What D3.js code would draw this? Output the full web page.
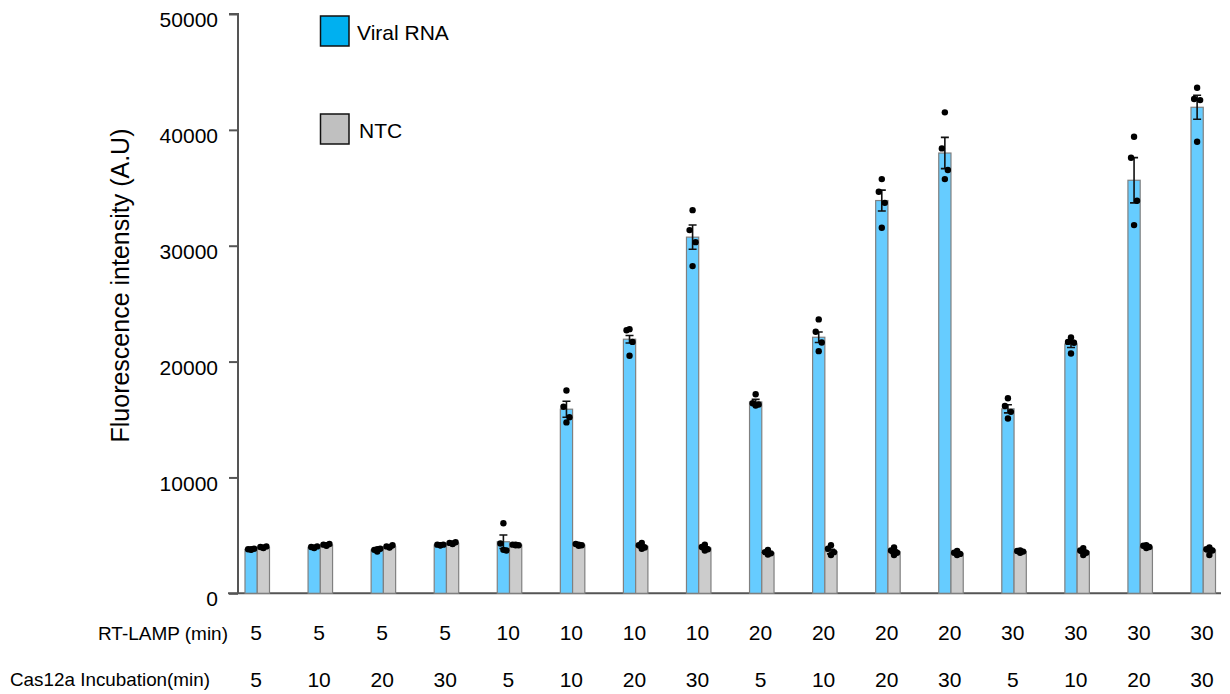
<!DOCTYPE html>
<html><head><meta charset="utf-8">
<script src="https://cdn.jsdelivr.net/npm/d3@7"></script>
<style>body{margin:0;background:#fff}text{font-family:"Liberation Sans",Arial,sans-serif;fill:#000}</style>
</head><body><svg id="c" width="1230" height="694"></svg>
<script>
const rtLamp = [5,5,5,5,10,10,10,10,20,20,20,20,30,30,30,30];
const casInc = [5,10,20,30,5,10,20,30,5,10,20,30,5,10,20,30];
const viralMean = [3800,3970,3740,4170,4450,15890,21930,30740,16520,22100,33900,38000,15920,21520,35650,41950];
const viralSem  = [80,80,100,60,580,690,320,1050,220,450,900,1350,350,300,1950,1040];
const viralDots = [
  [3750,3800,3850,3800],[3900,4000,4050,3950],[3600,3750,3850,3800],[4150,4200,4200,4150],
  [6050,4300,3700,3750],[17500,16100,15200,14750],[22800,22700,21700,20500],[33070,31350,30310,28240],
  [17180,16400,16300,16200],[23640,22570,21650,20900],[35750,34660,33700,31550],[41510,38400,36530,35750],
  [16840,16170,15660,15090],[22080,21700,21620,20700],[39410,37590,33880,31780],[43640,42660,42570,38970]];
const ntcMean = [3970,4170,4020,4320,4170,4170,4050,3900,3500,3600,3590,3450,3590,3590,4000,3740];
const ntcSem  = [60,60,80,60,40,60,120,110,90,200,140,80,50,130,60,140];
const ntcDots = [
  [3900,4000,4050,3950],[4100,4200,4250,4150],[3950,4050,4150,4000],[4250,4350,4400,4300],
  [4150,4200,4150,4200],[4200,4250,4150,4100],[4350,4150,3950,3850],[4200,4000,3800,3700],
  [3750,3550,3450,3350],[4150,3850,3550,3300],[3950,3700,3500,3300],[3650,3500,3400,3300],
  [3700,3650,3600,3500],[3900,3700,3500,3300],[4150,4100,4000,3900],[3950,3800,3700,3300]];
const yTicks = [0,10000,20000,30000,40000,50000];
const seriesNames = ["Viral RNA","NTC"];

const svg = d3.select("#c");
const ids = d3.range(rtLamp.length);
const x = d3.scalePoint().domain(ids).range([257,1203]);
const sub = d3.scaleBand().domain(["viral","ntc"]).range([-12,12.5]);
const y = d3.scaleLinear().domain([0,50000]).range([593.3,14]);
const jitter = [0,-3,3,0];

// y axis
const yAxis = d3.axisLeft(y).tickValues(yTicks).tickSize(9).tickFormat(d3.format("d"));
const ga = svg.append("g").attr("transform","translate(238,0)").call(yAxis);
ga.select(".domain").attr("stroke","#555").attr("stroke-width",2).attr("d","M-9,"+y(50000)+"H0V"+y(0));
ga.selectAll(".tick line").attr("stroke","#555").attr("stroke-width",2);
ga.selectAll(".tick text").attr("font-size",21).attr("x",-20).attr("dy","0.6em").style("font-family","Liberation Sans, Arial, sans-serif");

// x baseline
svg.append("line").attr("x1",228).attr("x2",1221).attr("y1",y(0)).attr("y2",y(0)).attr("stroke","#555").attr("stroke-width",2);

const series = [
  {key:"viral", mean:viralMean, sem:viralSem, dots:viralDots, fill:"#66CCFF"},
  {key:"ntc", mean:ntcMean, sem:ntcSem, dots:ntcDots, fill:"#CCCCCC"}];

series.forEach(s=>{
  const g = svg.append("g");
  g.selectAll("rect").data(ids).join("rect")
    .attr("x",i=>x(i)+sub(s.key)).attr("width",sub.bandwidth())
    .attr("y",i=>y(s.mean[i])).attr("height",i=>y(0)-y(s.mean[i]))
    .attr("fill",s.fill).attr("stroke","#808080").attr("stroke-width",1.2);
});
series.forEach(s=>{
  const g = svg.append("g").attr("stroke","#111").attr("stroke-width",1.6).attr("fill","none");
  ids.forEach(i=>{
    const cx = x(i)+sub(s.key)+sub.bandwidth()/2;
    const t = y(s.mean[i]+s.sem[i]), b = y(s.mean[i]-s.sem[i]);
    g.append("path").attr("d",`M${cx},${t}V${b}M${cx-4},${t}H${cx+4}M${cx-4},${b}H${cx+4}`);
  });
  const gd = svg.append("g");
  ids.forEach(i=>{
    const cx = x(i)+sub(s.key)+sub.bandwidth()/2;
    gd.selectAll(null).data(s.dots[i]).join("circle")
      .attr("cx",(d,k)=>cx+jitter[k]).attr("cy",d=>y(d)).attr("r",3.2).attr("fill","#000");
  });
});

// category labels
const lab = svg.append("g").attr("font-size",21).attr("text-anchor","middle");
lab.selectAll(".r").data(ids).join("text").attr("x",i=>x(i)-1).attr("y",640).text(i=>rtLamp[i]);
lab.selectAll(".c").data(ids).join("text").attr("x",i=>x(i)-1).attr("y",686.5).text(i=>casInc[i]);
svg.append("text").attr("x",228).attr("y",640).attr("text-anchor","end").attr("font-size",19).attr("textLength",130).attr("lengthAdjust","spacingAndGlyphs").text("RT-LAMP (min)");
svg.append("text").attr("x",210).attr("y",685.5).attr("text-anchor","end").attr("font-size",19).attr("textLength",200).attr("lengthAdjust","spacingAndGlyphs").text("Cas12a Incubation(min)");

// y title
svg.append("text").attr("transform","translate(129,285.5) rotate(-90)").attr("text-anchor","middle")
  .attr("font-size",25).text("Fluorescence intensity (A.U)");

// legend
const legFill = ["#00B0F0","#C0C0C0"];
const legY = [16,114];
seriesNames.forEach((n,k)=>{
  svg.append("rect").attr("x",320.5).attr("y",legY[k]).attr("width",28.5).attr("height",30)
    .attr("fill",legFill[k]).attr("stroke","#111").attr("stroke-width",1.5);
  svg.append("text").attr("x",357+k*2).attr("y",legY[k]+23.5).attr("font-size",21).text(n);
});
</script></body></html>
